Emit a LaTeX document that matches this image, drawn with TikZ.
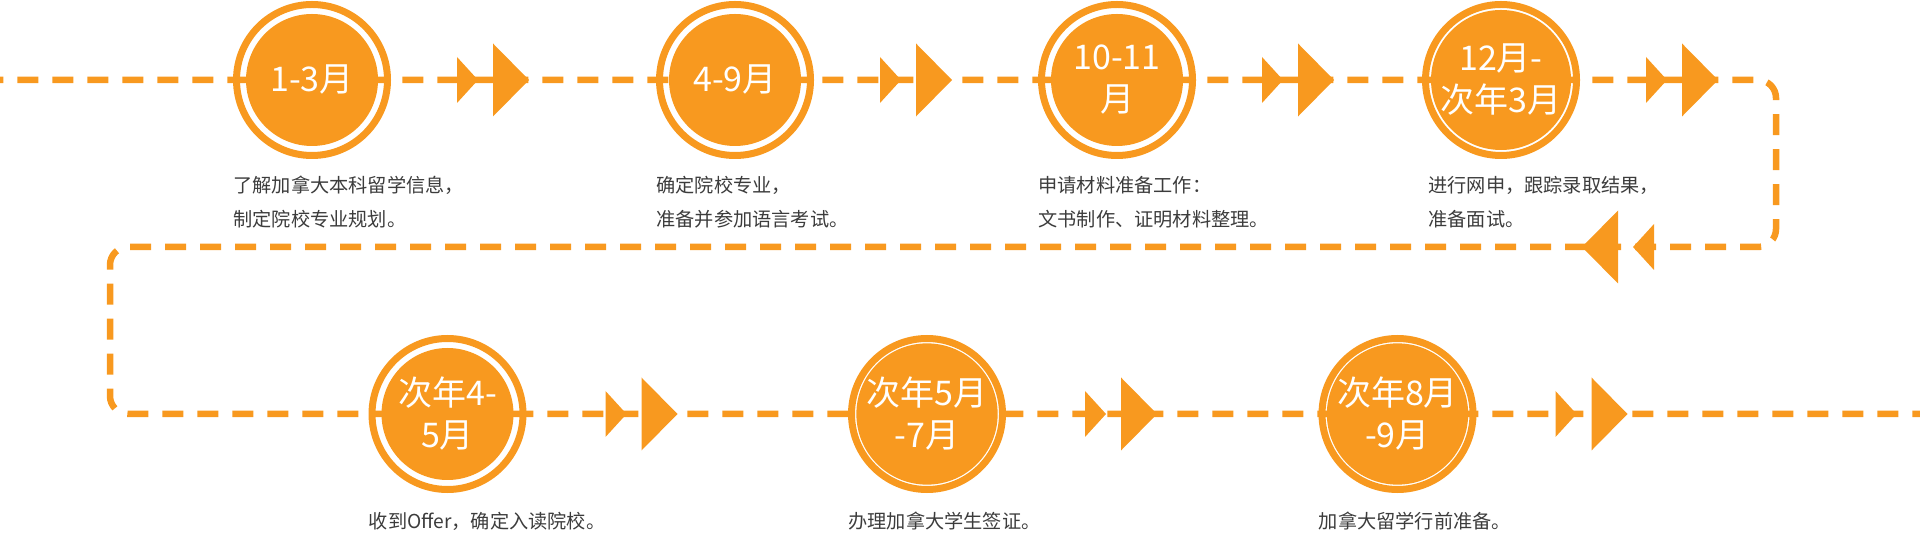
\documentclass[tikz,border=0pt]{standalone}
\usepackage{fontspec}
\setmainfont{Noto Sans CJK SC}
\definecolor{trailorange}{HTML}{F8991F}
\definecolor{desctext}{HTML}{3C3C3C}

\tikzset{
    trail/.style={draw=trailorange, line width=3.25pt, dash pattern=on 10.5pt off 7pt, dash phase=8.85pt, rounded corners=9pt},
    badge/.style={circle, fill=trailorange, minimum size=66pt, inner sep=0pt, text=white, align=center, font=\fontsize{17}{21}\selectfont},
    ring/.style={draw=trailorange, line width=3.5pt},
    desc/.style={anchor=north west, inner sep=0pt, text=desctext, align=left, font=\fontsize{9.6}{17}\selectfont}
  }
\tikzset{
    pics/fwd/.style={
      code={
        \fill[trailorange] (0,-23) -- (21,0) -- (0,23) -- cycle;
        \fill[trailorange] (36,-36.5) -- (72,0) -- (36,36.5) -- cycle;
      }
    }
  }

\begin{document}
\begin{tikzpicture}[x=0.5pt, y=-0.5pt]
    \useasboundingbox (0,0) rectangle (1920,533);

    \coordinate (start) at (0,80);
    \coordinate (turnA) at (1776,80);
    \coordinate (turnB) at (1776,247);
    \coordinate (turnC) at (110,247);
    \coordinate (turnD) at (110,414);
    \coordinate (finish) at (1920,414);
    \draw[trail] (start) -- (turnA) -- (turnB) -- (turnC) -- (turnD) -- (finish);

    \node[badge] (m1) at (312,80) {1-3月};
    \node[badge] (m2) at (735,80) {4-9月};
    \node[badge] (m3) at (1117,80) {10-11\\月};
    \node[badge] (m4) at (1501,80) {12月-\\次年3月};
    \node[badge] (m5) at (447.5,414) {次年4-\\5月};
    \node[badge] (m6) at (927,414) {次年5月\\-7月};
    \node[badge] (m7) at (1397.5,414) {次年8月\\-9月};
    \foreach \i in {1,...,7} {
      \draw[ring] (m\i.center) circle[radius=37.75pt];
    }

    \foreach \i in {1,...,4} {
      \path (m\i.center) ++(145,0) pic{fwd};
    }
    \foreach \i in {5,6,7} {
      \path (m\i.center) ++(158,0) pic{fwd};
    }
    \path (turnB) ++(-122,0) pic[xscale=-1]{fwd};

    \node[desc] (d1) at ([shift={(-79,96)}]m1.center) {了解加拿大本科留学信息，\\制定院校专业规划。};
    \node[desc] (d2) at ([shift={(-79,96)}]m2.center) {确定院校专业，\\准备并参加语言考试。};
    \node[desc] (d3) at ([shift={(-79,96)}]m3.center) {申请材料准备工作：\\文书制作、证明材料整理。};
    \node[desc] (d4) at ([shift={(-73,96)}]m4.center) {进行网申，跟踪录取结果，\\准备面试。};
    \node[desc] (d5) at ([shift={(-79,98)}]m5.center) {收到Offer，确定入读院校。};
    \node[desc] (d6) at ([shift={(-79,98)}]m6.center) {办理加拿大学生签证。};
    \node[desc] (d7) at ([shift={(-79,98)}]m7.center) {加拿大留学行前准备。};
\end{tikzpicture}
\end{document}
